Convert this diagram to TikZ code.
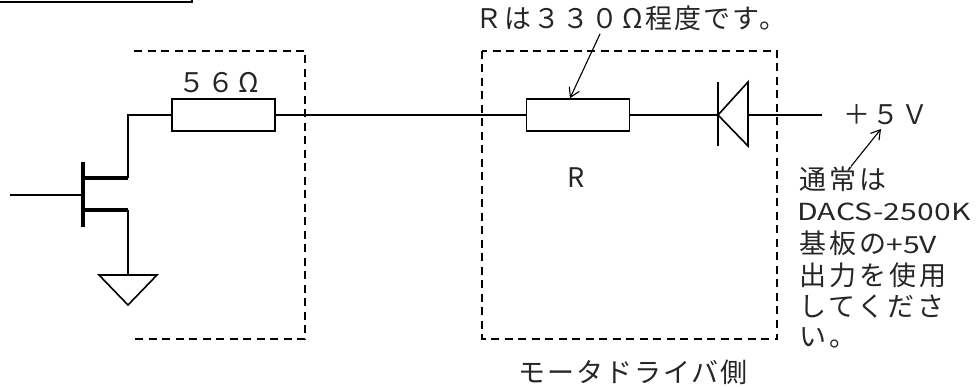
\documentclass[tikz,border=0pt]{standalone}
\usepackage{fontspec}
\usetikzlibrary{arrows.meta}
\setmainfont{Noto Sans CJK JP}
\newfontfamily\wide[LetterSpace=7.5]{Noto Sans CJK JP}
\newfontfamily\notew[LetterSpace=11]{Noto Sans CJK JP}
\newfontfamily\latw[FakeStretch=1.28,LetterSpace=1]{Noto Sans CJK JP}
\newcommand{\latt}[1]{{\fontsize{23.5pt}{24pt}\selectfont\latw #1}}
\tikzset{
  wire/.style={line width=1.6pt},
  boundary/.style={line width=1.6pt,dash pattern=on 8pt off 5.5pt},
  resistor/.style={draw,line width=1.6pt,fill=white,minimum width=103pt,minimum height=32pt,inner sep=0pt},
  heavy/.style={line width=3.4pt},
  pointer/.style={line width=1.1pt,-{Straight Barb[length=9pt,width=11pt,line width=1.1pt]}},
  label/.style={inner sep=0pt,anchor=west,text=black!85,font=\fontsize{27pt}{30pt}\selectfont\wide},
  note/.style={inner sep=0pt,anchor=west,text=black!85,font=\fontsize{27pt}{30pt}\selectfont\notew}
}
\begin{document}
\begin{tikzpicture}[x=1pt,y=-1pt]
\useasboundingbox (0,0) rectangle (980,387);
% top-left box fragment
\draw[line width=2pt] (0,2) -- (192,2) -- (192,0);
% dashed boundaries
\coordinate (b1a) at (134,51); \coordinate (b1b) at (305,51);
\coordinate (b1c) at (305,339); \coordinate (b1d) at (134,339);
\draw[boundary] (b1a) -- (b1b) -- (b1c) -- (b1d);
\draw[boundary] (482,51) rectangle (777,339);
% resistors
\node[resistor] (r1) at (223.5,115) {};
\node[resistor] (r2) at (578,115) {};
% diode
\coordinate (dk) at (718,115);
\coordinate (dt) at (718,82); \coordinate (db) at (718,146);
\coordinate (da) at (748,115);
\coordinate (dat) at (748,82); \coordinate (dab) at (748,146);
\draw[wire] (dt) -- (db);
\draw[wire] (dk) -- (dat) -- (dab) -- cycle;
% FET
\coordinate (corner) at (128,115);
\coordinate (drain) at (128,178); \coordinate (dgate) at (83,178);
\coordinate (source) at (128,210); \coordinate (sgate) at (83,210);
\coordinate (gt) at (83,162); \coordinate (gb) at (83,227);
\coordinate (gin) at (10,195); \coordinate (g) at (83,195);
\coordinate (gnd) at (128,275); \coordinate (gl) at (99,275);
\coordinate (gr) at (157,275); \coordinate (gtip) at (128,305);
\coordinate (vout) at (822,115);
\draw[line width=3.6pt] (gt) -- (gb);
\draw[heavy] (dgate) -- (drain);
\draw[heavy] (sgate) -- (source);
\draw[wire] (gin) -- (g);
\draw[wire] (drain) -- (corner) -- (r1.west);
\draw[wire] (source) -- (gnd);
\draw[wire] (gl) -- (gr) -- (gtip) -- cycle;
\draw[wire] (r1.east) -- (r2.west);
\draw[wire] (r2.east) -- (dk);
\draw[wire] (da) -- (vout);
% labels
\node[label] (t56) at (178,83) {５６\kern4ptΩ};
\node[label,anchor=center] (tR) at (576,178) {R};
\node[label] (t330) at (475,18) {Ｒは３３０\kern4ptΩ\kern3pt程度です。};
\node[label] (t5v) at (843,115) {＋５Ｖ};
\node[label] (tside) at (518,372) {モータドライバ側};
\node[note] (n1) at (799,179) {通常は};
\node[note] (n2) at (797,212) {\latt{DACS-2500K}};
\node[note] (n3) at (799,243) {基板の\latt{+5V}};
\node[note] (n4) at (799,275) {出力を使用};
\node[note] (n5) at (799,307) {してくださ};
\node[note] (n6) at (799,338) {い。};
% pointers
\coordinate (p1s) at (600,34);
\draw[pointer] (p1s) -- (r2.north -| 570,99);
\coordinate (p2e) at (881,129);
\draw[pointer] (n1.north -| 851,162) -- (p2e);
\end{tikzpicture}
\end{document}
